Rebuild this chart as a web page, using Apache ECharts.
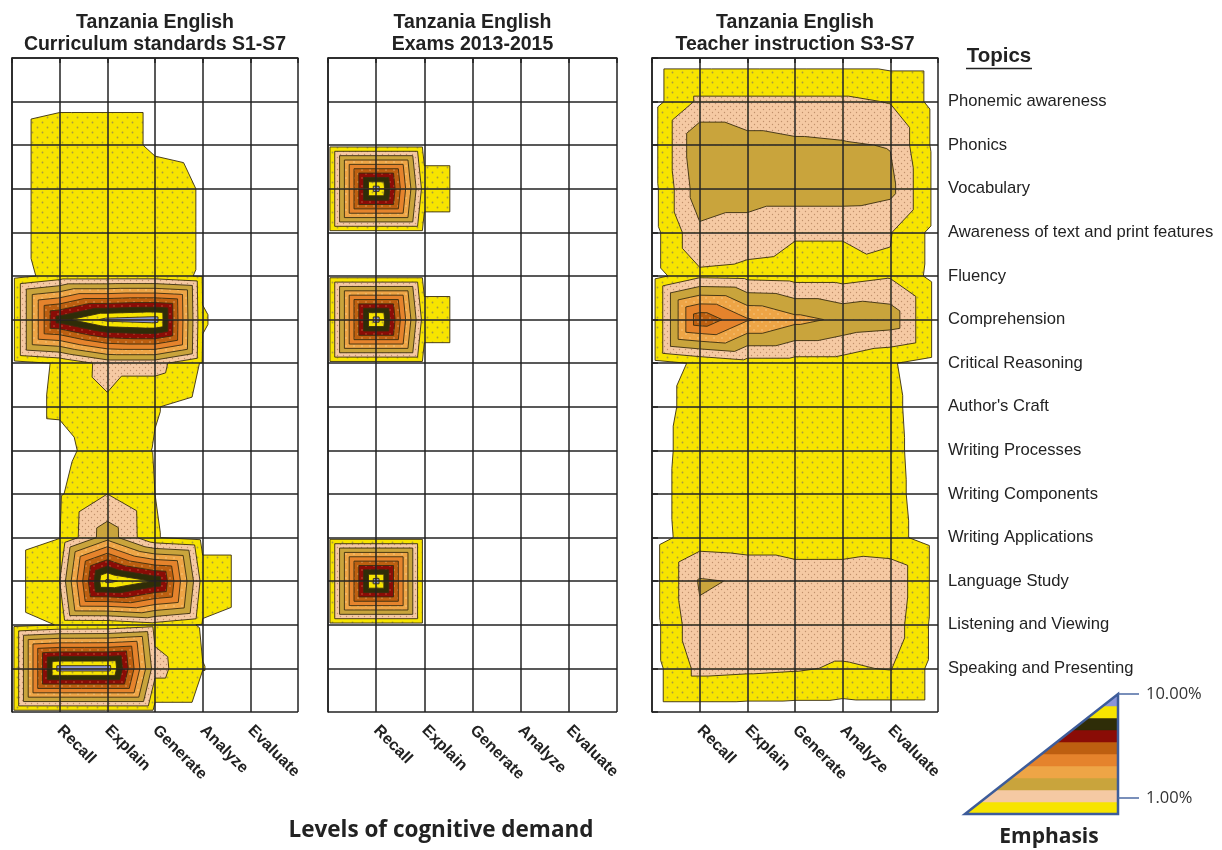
<!DOCTYPE html>
<html>
<head>
<meta charset="utf-8">
<script src="https://cdn.jsdelivr.net/npm/echarts@6/dist/echarts.min.js"></script>
<style>
  html, body { margin: 0; padding: 0; background: #ffffff; }
  #chart { width: 1222px; height: 850px; }
</style>
</head>
<body>
<div id="chart"></div>
<script>
// Levels of cognitive demand (columns) and topics (rows)
const LEVEL_NAMES = ['Recall', 'Explain', 'Generate', 'Analyze', 'Evaluate'];
const TOPICS = [
  'Phonemic awareness', 'Phonics', 'Vocabulary', 'Awareness of text and print features',
  'Fluency', 'Comprehension', 'Critical Reasoning', "Author's Craft", 'Writing Processes',
  'Writing Components', 'Writing Applications', 'Language Study', 'Listening and Viewing',
  'Speaking and Presenting'
];

// Emphasis (%) per topic; columns follow LEVEL_NAMES
const CURRICULUM = [
  [0.2, 0.2, 0.2, 0, 0],
  [1.0, 1.0, 0.2, 0, 0],
  [1.0, 1.0, 1.0, 0.3, 0],
  [1.0, 1.0, 1.0, 0.3, 0],
  [0.8, 0.8, 0.8, 0.3, 0],
  [8.0, 9.7, 10.0, 0.45, 0],
  [0.5, 1.8, 1.8, 0.3, 0],
  [0.55, 1.2, 0.45, 0, 0],
  [0.05, 1.0, 0.35, 0, 0],
  [0.3, 1.4, 0.4, 0, 0],
  [0.38, 3.0, 0.45, 0, 0],
  [1.4, 9.7, 8.3, 1.0, 0],
  [0.45, 0.5, 1.0, 0.3, 0],
  [10.0, 10.0, 1.8, 0.42, 0]
];
const EXAMS = [
  [0, 0, 0, 0, 0],
  [0, 0, 0, 0, 0],
  [10.0, 0.85, 0, 0, 0],
  [0, 0, 0, 0, 0],
  [0, 0, 0, 0, 0],
  [10.0, 0.85, 0, 0, 0],
  [0, 0, 0, 0, 0],
  [0, 0, 0, 0, 0],
  [0, 0, 0, 0, 0],
  [0, 0, 0, 0, 0],
  [0, 0, 0, 0, 0],
  [10.0, 0, 0, 0, 0],
  [0, 0, 0, 0, 0],
  [0, 0, 0, 0, 0]
];
const INSTRUCTION = [
  [1.6, 1.6, 1.6, 1.6, 1.35],
  [3.3, 2.8, 2.6, 2.5, 2.35],
  [3.0, 3.0, 3.0, 3.0, 2.7],
  [2.2, 1.9, 1.5, 1.5, 1.45],
  [1.2, 1.1, 1.0, 1.0, 1.3],
  [6.2, 4.5, 3.7, 3.2, 3.0],
  [0.55, 1.0, 1.0, 1.0, 0.47],
  [0.77, 1.0, 1.0, 1.0, 0.54],
  [0.9, 1.0, 1.0, 1.0, 0.57],
  [0.96, 1.0, 1.0, 1.0, 0.6],
  [0.9, 0.8, 0.8, 0.8, 0.65],
  [2.5, 2.3, 2.0, 2.0, 2.2],
  [2.2, 2.0, 1.9, 1.9, 2.0],
  [1.7, 1.6, 1.5, 1.3, 1.45]
];

// Contour thresholds (%) and band colours, lowest first
const CONTOUR_LEVELS = [0.4, 1.4, 2.4, 3.4, 4.4, 5.4, 6.4, 7.4, 8.4, 9.4];
const BAND_COLORS = ['#f7e400', '#f5c9a3', '#c9a43c', '#eea546', '#e5832c',
                     '#bd5f10', '#8a0c06', '#2f2d08', '#f7e400', '#8a94d8'];
const LEGEND_TICKS = ['10.00%', '1.00%'];

const FONT = '"Liberation Sans", Arial, sans-serif';
const SANS = '"Open Sans", "Liberation Sans", sans-serif';

// Stippled fills for the lighter bands
function dotPattern(bg, dot, w, h, pts, r) {
  const cv = document.createElement('canvas');
  cv.width = w; cv.height = h;
  const g = cv.getContext('2d');
  g.fillStyle = bg; g.fillRect(0, 0, w, h);
  g.fillStyle = dot;
  pts.forEach(p => { g.beginPath(); g.arc(p[0], p[1], r, 0, Math.PI * 2); g.fill(); });
  return { image: cv, repeat: 'repeat' };
}
const BAND_FILLS = BAND_COLORS.map((c, k) => {
  if (k === 0 || k === 8) return dotPattern(c, '#a99b3c', 10, 10, [[2.5, 2.5], [7.5, 7.5]], 0.9);
  if (k === 1) return dotPattern(c, '#c0906c', 6, 6, [[1.5, 1.5], [4.5, 4.5]], 0.7);
  if (k === 3) return dotPattern(c, '#f6cf90', 8, 8, [[2, 2], [6, 6]], 0.7);
  if (k === 5) return dotPattern(c, '#e0a060', 8, 8, [[2, 2], [6, 6]], 0.8);
  if (k === 6) return dotPattern(c, '#c8583a', 8, 8, [[2, 2], [6, 6]], 0.8);
  return c;
});

// Cells of the value grid, padded with a zero border row/column
function cellData(rows) {
  const g = [];
  for (let r = 0; r <= 15; r++) {
    const row = [];
    for (let c = 0; c <= 6; c++) {
      row.push(r >= 1 && r <= 14 && c >= 1 && c <= 5 ? rows[r - 1][c - 1] : 0);
    }
    g.push(row);
  }
  const out = [];
  for (let r = 0; r < 15; r++) {
    for (let c = 0; c < 6; c++) {
      out.push([c, r, g[r][c], g[r][c + 1], g[r + 1][c], g[r + 1][c + 1]]);
    }
  }
  return out;
}

// Part of a triangle where the linear surface is >= t
function clipTri(tri, t) {
  const out = [];
  for (let i = 0; i < 3; i++) {
    const a = tri[i], b = tri[(i + 1) % 3];
    const ain = a[2] >= t, bin = b[2] >= t;
    if (ain) out.push(a);
    if (ain !== bin) {
      const f = (t - a[2]) / (b[2] - a[2]);
      out.push([a[0] + f * (b[0] - a[0]), a[1] + f * (b[1] - a[1]), t]);
    }
  }
  return out;
}
function isoSeg(tri, t) {
  const pts = [];
  for (let i = 0; i < 3; i++) {
    const a = tri[i], b = tri[(i + 1) % 3];
    if ((a[2] >= t) !== (b[2] >= t)) {
      const f = (t - a[2]) / (b[2] - a[2]);
      pts.push([a[0] + f * (b[0] - a[0]), a[1] + f * (b[1] - a[1])]);
    }
  }
  return pts.length === 2 ? pts : null;
}
function px(api, p) {
  const q = api.coord([p[0], p[1]]);
  return q[0].toFixed(2) + ' ' + q[1].toFixed(2);
}

function renderCell(params, api) {
  const c = api.value(0), r = api.value(1);
  const v = [api.value(2), api.value(3), api.value(4), api.value(5)];
  const P = [[c, r, v[0]], [c + 1, r, v[1]], [c, r + 1, v[2]], [c + 1, r + 1, v[3]]];
  // split the cell along the diagonal through its highest corner
  const tris = Math.max(v[0], v[3]) >= Math.max(v[1], v[2])
    ? [[P[0], P[1], P[3]], [P[0], P[2], P[3]]]
    : [[P[1], P[0], P[2]], [P[1], P[3], P[2]]];
  const fills = [], lines = [];
  CONTOUR_LEVELS.forEach((t, k) => {
    let d = '', ld = '';
    tris.forEach(tri => {
      const poly = clipTri(tri, t);
      if (poly.length >= 3) {
        d += 'M' + poly.map(p => px(api, p)).join(' L') + ' Z ';
      }
      const seg = isoSeg(tri, t);
      if (seg) ld += 'M' + px(api, seg[0]) + ' L' + px(api, seg[1]) + ' ';
    });
    if (d) fills.push({ type: 'path', shape: { pathData: d }, style: { fill: BAND_FILLS[k], stroke: null } });
    if (ld) lines.push({ type: 'path', shape: { pathData: ld }, style: { fill: null, stroke: 'rgba(58,46,16,0.9)', lineWidth: 1 } });
  });
  return { type: 'group', children: fills.concat(lines) };
}

const GRID_TOP = 58, GRID_H = 654;
const PANELS = [
  { left: 12, width: 286, title: 'Tanzania English\nCurriculum standards S1-S7', rows: CURRICULUM },
  { left: 328, width: 289, title: 'Tanzania English\nExams 2013-2015', rows: EXAMS },
  { left: 652, width: 286, title: 'Tanzania English\nTeacher instruction S3-S7', rows: INSTRUCTION }
];
const LINE = { color: '#222', width: 1.5 };

const grids = [], xAxes = [], yAxes = [], series = [], graphics = [];
PANELS.forEach((p, i) => {
  grids.push({ left: p.left, top: GRID_TOP, width: p.width, height: GRID_H, containLabel: false, outerBoundsMode: 'none' });
  xAxes.push({
    gridIndex: i, type: 'value', min: 0, max: 6, interval: 1, z: 5,
    axisLine: { show: true, lineStyle: LINE },
    axisTick: { show: true, length: 5, lineStyle: LINE },
    splitLine: { show: true, showMinLine: true, showMaxLine: true, lineStyle: LINE },
    axisLabel: {
      rotate: -45, margin: 16, fontFamily: FONT, fontWeight: 'bold', fontSize: 16, color: '#222',
      showMinLabel: true, showMaxLabel: true,
      formatter: v => LEVEL_NAMES[v - 1] || ''
    }
  });
  const isLast = i === 2;
  yAxes.push({
    gridIndex: i, type: 'value', min: 0, max: 15, interval: 1, inverse: true, z: 5,
    position: isLast ? 'right' : 'left',
    axisLine: { show: true, lineStyle: LINE },
    axisTick: { show: isLast, length: 6, lineStyle: LINE },
    splitLine: { show: true, showMinLine: true, showMaxLine: true, lineStyle: LINE },
    axisLabel: {
      show: isLast, margin: 10, fontFamily: FONT, fontSize: 16.6, color: '#222',
      showMinLabel: true, showMaxLabel: true,
      formatter: v => TOPICS[v - 1] || ''
    }
  });
  series.push({
    type: 'custom', xAxisIndex: i, yAxisIndex: i, z: 1, silent: true, animation: false,
    dimensions: ['col', 'row', 'tl', 'tr', 'bl', 'br'],
    encode: { x: 0, y: 1 },
    renderItem: renderCell,
    data: cellData(p.rows)
  });
  graphics.push({
    type: 'text', x: p.left + p.width / 2, y: 12,
    style: { text: p.title, textAlign: 'center', textVerticalAlign: 'top', lineHeight: 22,
             font: 'bold 19.5px ' + FONT, fill: '#222' }
  });
});

// Topics heading
graphics.push({ type: 'text', x: 999, y: 56,
  style: { text: 'Topics', textAlign: 'center', textVerticalAlign: 'middle', font: 'bold 20.5px ' + FONT, fill: '#222' } });
graphics.push({ type: 'line', shape: { x1: 966, y1: 68.5, x2: 1032, y2: 68.5 }, style: { stroke: '#222', lineWidth: 1.6 } });

// Axis title
graphics.push({ type: 'text', x: 441, y: 831,
  style: { text: 'Levels of cognitive demand', textAlign: 'center', textVerticalAlign: 'middle',
           font: 'bold 22.5px ' + SANS, fill: '#222' } });

// Emphasis legend: stacked bands inside a right triangle
const LX0 = 965, LX1 = 1118, LY0 = 814, LY1 = 694;
const hx = y => LX1 - (y - LY1) / (LY0 - LY1) * (LX1 - LX0);
const bandH = (LY0 - LY1) / BAND_COLORS.length;
BAND_COLORS.forEach((col, k) => {
  const yb = LY0 - k * bandH, yt = LY0 - (k + 1) * bandH;
  graphics.push({ type: 'polygon', shape: { points: [[hx(yb), yb], [LX1, yb], [LX1, yt], [hx(yt), yt]] },
    style: { fill: col, stroke: col, lineWidth: 0.5 } });
});
graphics.push({ type: 'polygon', shape: { points: [[LX0, LY0], [LX1, LY0], [LX1, LY1]] },
  style: { fill: null, stroke: '#3d5c9a', lineWidth: 2.5 } });
[[LY1, LEGEND_TICKS[0]], [798, LEGEND_TICKS[1]]].forEach(([y, txt]) => {
  graphics.push({ type: 'line', shape: { x1: LX1, y1: y, x2: LX1 + 21, y2: y }, style: { stroke: '#4d6aa3', lineWidth: 1.5 } });
  graphics.push({ type: 'text', x: LX1 + 28, y: y,
    style: { text: txt, textAlign: 'left', textVerticalAlign: 'middle', font: '16.5px ' + SANS, fill: '#333' } });
});
graphics.push({ type: 'text', x: 1049, y: 837,
  style: { text: 'Emphasis', textAlign: 'center', textVerticalAlign: 'middle',
           font: 'bold 21px ' + SANS, fill: '#222' } });

const chart = echarts.init(document.getElementById('chart'), null, { renderer: 'canvas' });
chart.setOption({
  animation: false,
  backgroundColor: '#ffffff',
  grid: grids,
  xAxis: xAxes,
  yAxis: yAxes,
  series: series,
  graphic: graphics
});
</script>
</body>
</html>
